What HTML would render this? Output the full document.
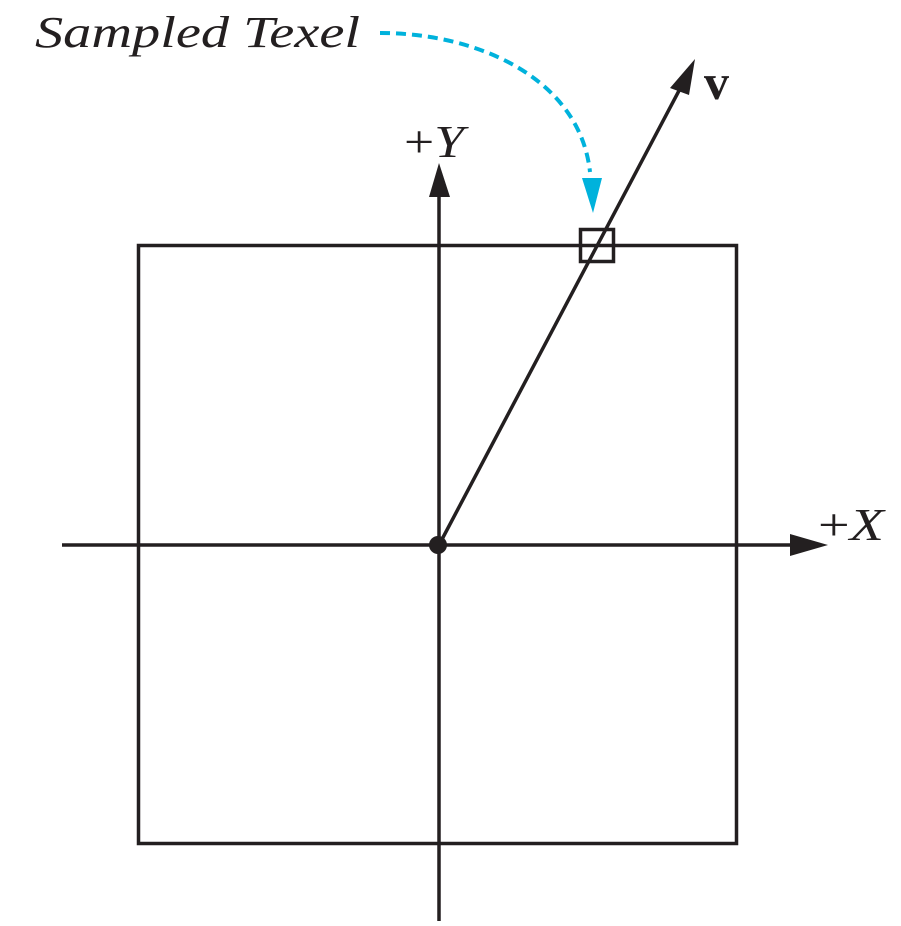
<!DOCTYPE html><html><head><style>body{margin:0;background:#fff}</style></head><body>
<svg width="901" height="921" xmlns="http://www.w3.org/2000/svg">
<g stroke="#231f20" stroke-width="3.5" fill="none">
<rect x="138.5" y="245.5" width="598" height="598"/>
<line x1="62" y1="545" x2="795" y2="545"/>
<line x1="439" y1="921" x2="439" y2="195"/>
<line x1="439" y1="545" x2="682" y2="85"/>
<rect x="580.5" y="229.5" width="33" height="32"/>
</g>
<g fill="#231f20">
<polygon points="828,545 790,534 790,556"/>
<polygon points="439,163 429,197 450,197"/>
<polygon points="695,59 670,88 689,95"/>
<circle cx="438" cy="545" r="9"/>
</g>
<path d="M380,33 C480,33 580,80 590,172" stroke="#00b2dc" stroke-width="4" stroke-dasharray="10,6" fill="none"/>
<polygon points="593,213 582,178 602,178" fill="#00b2dc"/>
<g font-family="Liberation Serif, serif" fill="#231f20">
<text x="35" y="47" font-size="44" font-style="italic" textLength="325" lengthAdjust="spacingAndGlyphs">Sampled Texel</text>
<text x="404" y="157" font-size="46" textLength="60" lengthAdjust="spacingAndGlyphs">+<tspan font-style="italic">Y</tspan></text>
<text x="818" y="540" font-size="46" textLength="66" lengthAdjust="spacingAndGlyphs">+<tspan font-style="italic">X</tspan></text>
<text x="704" y="99" font-size="50" font-weight="bold">v</text>
</g>
</svg></body></html>
